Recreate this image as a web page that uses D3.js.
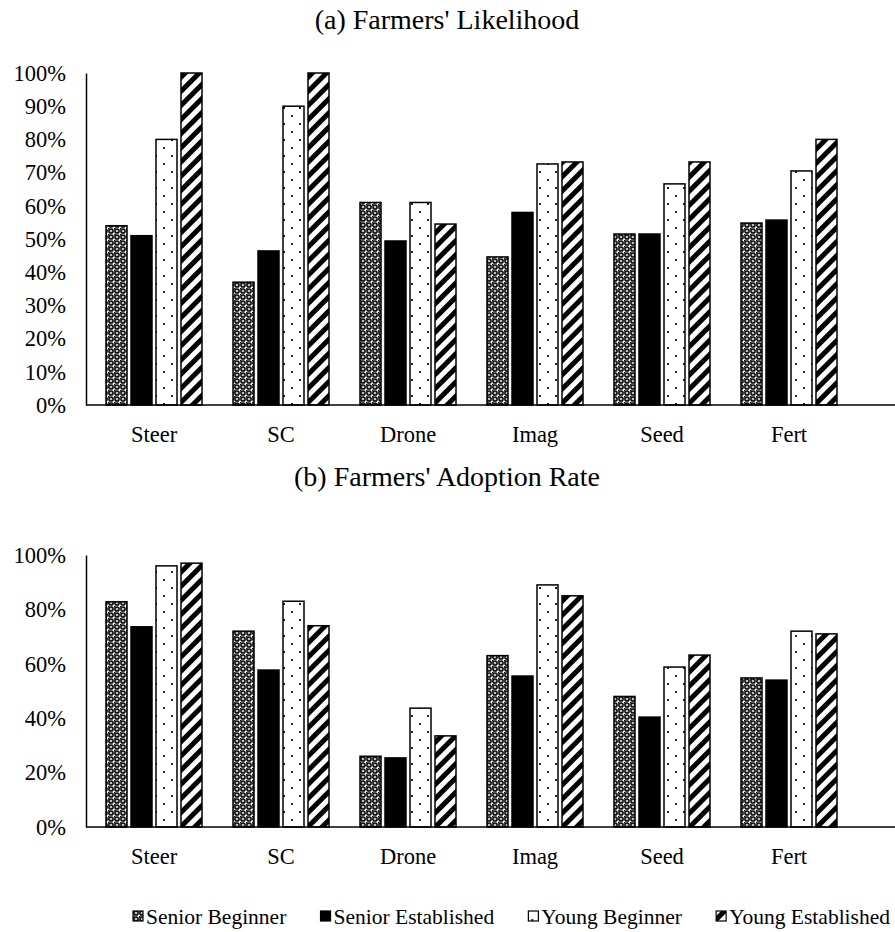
<!DOCTYPE html>
<html>
<head>
<meta charset="utf-8">
<script src="https://cdn.jsdelivr.net/npm/d3@7"></script>
<style>
  body { margin: 0; background: #fff; }
  svg text { font-family: "Liberation Serif", "Times New Roman", serif; fill: #000; }
</style>
</head>
<body>
<div id="chart"></div>
<script>
// data
const categories = ["Steer", "SC", "Drone", "Imag", "Seed", "Fert"];
const groups = ["Senior Beginner", "Senior Established", "Young Beginner", "Young Established"];

const likelihood = {
    "Senior Beginner":    [0.54, 0.37, 0.61, 0.446, 0.515, 0.548],
    "Senior Established": [0.51, 0.464, 0.494, 0.58, 0.515, 0.557],
    "Young Beginner":     [0.80, 0.90, 0.61, 0.726, 0.666, 0.705],
    "Young Established":  [1.00, 1.00, 0.545, 0.732, 0.732, 0.80]
};
const adoption = {
    "Senior Beginner":    [0.828, 0.72, 0.26, 0.63, 0.48, 0.548],
    "Senior Established": [0.736, 0.577, 0.254, 0.555, 0.404, 0.54],
    "Young Beginner":     [0.96, 0.83, 0.437, 0.89, 0.588, 0.72],
    "Young Established":  [0.97, 0.74, 0.335, 0.85, 0.632, 0.71]
};

const likelihoodTicks = d3.range(0, 1.01, 0.1);
const adoptionTicks = d3.range(0, 1.01, 0.2);

const W = 895, H = 932;

const svg = d3.select("#chart").append("svg")
    .attr("width", W)
    .attr("height", H);

// fill patterns
const defs = svg.append("defs");

let p1 = defs.append("pattern")
    .attr("id", "pat-sb")
    .attr("patternUnits", "userSpaceOnUse")
    .attr("width", 6).attr("height", 6);
p1.append("rect").attr("width", 6).attr("height", 6).attr("fill", "#fff");
p1.append("circle").attr("cx", 3).attr("cy", 3).attr("r", 2.1)
    .attr("fill", "none").attr("stroke", "#000").attr("stroke-width", 1.5);
p1.append("rect").attr("x", 2.5).attr("y", 2.5).attr("width", 1).attr("height", 1).attr("fill", "#000");
p1.append("rect").attr("x", 0).attr("y", 0).attr("width", 1.4).attr("height", 1.4).attr("fill", "#000");

let p3 = defs.append("pattern")
    .attr("id", "pat-yb")
    .attr("patternUnits", "userSpaceOnUse")
    .attr("width", 16).attr("height", 16);
p3.append("rect").attr("width", 16).attr("height", 16).attr("fill", "#fff");
p3.append("rect").attr("x", 3).attr("y", 3).attr("width", 2).attr("height", 2).attr("fill", "#222");
p3.append("rect").attr("x", 11).attr("y", 11).attr("width", 2).attr("height", 2).attr("fill", "#222");

let p4 = defs.append("pattern")
    .attr("id", "pat-ye")
    .attr("patternUnits", "userSpaceOnUse")
    .attr("width", 10).attr("height", 10)
    .attr("patternTransform", "rotate(45)");
p4.append("rect").attr("width", 10).attr("height", 10).attr("fill", "#fff");
p4.append("rect").attr("x", 0).attr("width", 5).attr("height", 10).attr("fill", "#000");

const fills = {
    "Senior Beginner": "url(#pat-sb)",
    "Senior Established": "#000",
    "Young Beginner": "url(#pat-yb)",
    "Young Established": "url(#pat-ye)"
};

const x = d3.scaleBand()
    .domain(categories)
    .range([90.5, 852.5]);

const xSub = d3.scaleBand()
    .domain(groups)
    .range([(x.bandwidth() - 100) / 2, (x.bandwidth() + 100) / 2])
    .paddingInner(0.16)
    .paddingOuter(0.08);

function drawPanel(cfg) {
    let y = d3.scaleLinear()
        .domain([0, 1])
        .range([cfg.bottom, cfg.top]);

    let g = svg.append("g").attr("class", "panel");

    g.append("text")
        .attr("x", 447)
        .attr("y", cfg.titleY)
        .attr("text-anchor", "middle")
        .style("font-size", "28px")
        .text(cfg.title);

    // y axis
    let yAxis = d3.axisLeft(y)
        .tickValues(cfg.ticks)
        .tickFormat(d3.format(".0%"))
        .tickSize(0)
        .tickPadding(20);
    let ya = g.append("g")
        .attr("transform", "translate(86,0)")
        .call(yAxis);
    ya.select(".domain").attr("stroke", "#000").attr("stroke-width", 1.5);
    ya.selectAll("text").style("font-size", "22.5px");

    // bars
    let rows = [];
    groups.forEach(grp => {
        cfg.data[grp].forEach((v, i) => rows.push({grp: grp, cat: categories[i], v: v}));
    });

    g.append("g").selectAll("rect")
        .data(rows)
        .join("rect")
        .attr("x", d => x(d.cat) + xSub(d.grp))
        .attr("width", xSub.bandwidth())
        .attr("y", d => y(d.v))
        .attr("height", d => y(0) - y(d.v))
        .attr("fill", d => fills[d.grp])
        .attr("stroke", "#000")
        .attr("stroke-width", 1.5);

    // x axis
    let xa = g.append("g")
        .attr("transform", `translate(0,${cfg.bottom})`)
        .call(d3.axisBottom(x).tickSize(0).tickPadding(21));
    xa.select(".domain").remove();
    xa.append("line")
        .attr("x1", 86).attr("x2", W)
        .attr("stroke", "#000").attr("stroke-width", 1.5);
    xa.selectAll("text").style("font-size", "22.5px");
}

drawPanel({title: "(a) Farmers' Likelihood", titleY: 29, top: 73, bottom: 405, data: likelihood, ticks: likelihoodTicks});
drawPanel({title: "(b) Farmers' Adoption Rate", titleY: 486, top: 555, bottom: 827, data: adoption, ticks: adoptionTicks});

// legend: spread items between x=133 and x=890
let legend = svg.append("g").attr("class", "legend");
let items = groups.map(grp => {
    let item = legend.append("g");
    item.append("rect")
        .attr("x", 0).attr("y", -5)
        .attr("width", 10).attr("height", 10)
        .attr("fill", fills[grp])
        .attr("stroke", "#000").attr("stroke-width", 1.2);
    let t = item.append("text")
        .attr("x", 13)
        .attr("y", 8)
        .style("font-size", "21.5px")
        .text(grp);
    return {g: item, w: 13 + t.node().getComputedTextLength()};
});
let totalW = d3.sum(items, d => d.w);
let gap = (890 - 133 - totalW) / (items.length - 1);
let lx = 133;
items.forEach(it => {
    it.g.attr("transform", `translate(${lx},916)`);
    lx += it.w + gap;
});
</script>
</body>
</html>
